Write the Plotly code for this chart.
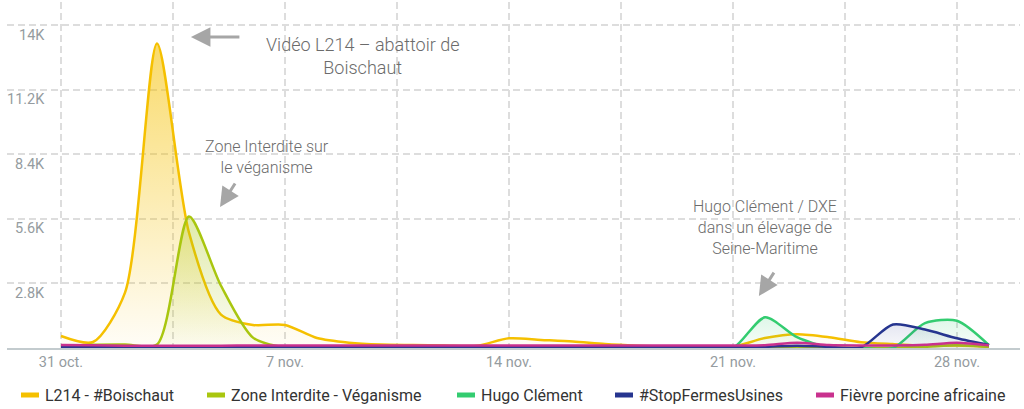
import pandas as pd
import plotly.graph_objects as go

# ---------------- data ----------------
start_date = "2020-10-31"
n_days = 30

l214 = [520, 260, 2400, 13200, 5000, 1450, 1000, 1000, 430, 230,
        150, 130, 110, 100, 420, 350, 280, 170, 100, 60,
        50, 60, 430, 600, 470, 250, 170, 110, 110, 60]
zone_interdite = [50, 140, 150, 150, 5700, 2700, 450, 20, 10, 10,
                  10, 10, 10, 10, 10, 10, 10, 10, 10, 10,
                  10, 10, 10, 10, 10, 10, 10, 50, 120, 50]
hugo_clement = [0, 0, 0, 0, 0, 0, 0, 0, 0, 0,
                0, 0, 0, 0, 0, 0, 0, 0, 0, 0,
                0, 0, 1330, 470, 30, 0, 0, 1080, 1180, 120]
stop_fermes = [30, 30, 30, 30, 30, 30, 30, 30, 30, 30,
               30, 30, 30, 30, 30, 30, 40, 40, 30, 30,
               30, 30, 50, 100, 50, 30, 1020, 800, 420, 130]
fievre = [130, 120, 100, 100, 100, 100, 110, 110, 110, 110,
          110, 110, 110, 110, 110, 110, 110, 110, 110, 110,
          110, 110, 120, 230, 130, 110, 110, 140, 230, 120]

series_names = ["L214 - #Boischaut", "Zone Interdite - Véganisme", "Hugo Clément",
                "#StopFermesUsines", "Fièvre porcine africaine"]
series_values = [l214, zone_interdite, hugo_clement, stop_fermes, fievre]
series_colors = ["#F5C000", "#A9C60F", "#33CC70", "#26358F", "#C9318E"]
fill_top_alpha = [0.58, 0.36, 0.16, 0.12, 0.10]

y_tick_values = [2800, 5600, 8400, 11200, 14000]
y_tick_labels = ["2.8K", "5.6K", "8.4K", "11.2K", "14K"]
x_tick_labels = ["31 oct.", "", "7 nov.", "", "14 nov.", "", "21 nov.", "", "28 nov."]

annotations_text = ["Vidéo L214 – abattoir de<br>Boischaut",
                    "Zone Interdite sur<br>le véganisme",
                    "Hugo Clément / DXE<br>dans un élevage de<br>Seine-Maritime"]

# ---------------- figure ----------------
W, H = 1024, 409
ML, MR, MT, MB = 7, 4, 2, 61
PW, PH = W - ML - MR, H - MT - MB

base = pd.Timestamp(start_date)
dates = [base + pd.Timedelta(days=i) for i in range(n_days)]


def day(d):
    return base + pd.Timedelta(days=d)


def hex_rgba(h, a):
    h = h.lstrip("#")
    r, g, b = int(h[0:2], 16), int(h[2:4], 16), int(h[4:6], 16)
    return f"rgba({r},{g},{b},{a})"


def px_x(p):
    return (p - ML) / PW


def px_y(p):
    return (H - MB - p) / PH


fig = go.Figure()
for name, vals, col, a in zip(series_names, series_values, series_colors, fill_top_alpha):
    fig.add_trace(go.Scatter(
        x=dates, y=vals, name=name, mode="lines",
        line=dict(color=col, width=2.5, shape="spline", smoothing=0.75),
        fill="tozeroy",
        fillgradient=dict(type="vertical",
                          colorscale=[[0, hex_rgba(col, 0.03)], [1, hex_rgba(col, a)]]),
        showlegend=False, hoverinfo="x+y+name",
    ))

font_family = "Roboto, 'Noto Sans', sans-serif"
tick_color = "#959ca0"
grid_color = "#dddddd"

tickvals = [day(3.5 * k) for k in range(len(x_tick_labels))]

fig.update_layout(
    width=W, height=H, autosize=False,
    margin=dict(l=ML, r=MR, t=MT, b=MB),
    plot_bgcolor="white", paper_bgcolor="white",
    font=dict(family=font_family),
    xaxis=dict(
        range=[day(-1.6875), day(29.97)],
        tickvals=tickvals, ticktext=x_tick_labels,
        showgrid=True, gridcolor=grid_color, gridwidth=1.5, griddash="7px,4px",
        showline=True, linecolor="#c3cbce", linewidth=2,
        tickfont=dict(size=14.5, color=tick_color, family=font_family),
        ticks="", zeroline=False, fixedrange=True,
    ),
    yaxis=dict(
        range=[0, 15000],
        tickvals=y_tick_values, showticklabels=False,
        showgrid=True, gridcolor=grid_color, gridwidth=1.5, griddash="7px,4px",
        zeroline=False, showline=False, fixedrange=True,
    ),
    showlegend=False,
)

anns = []
# y tick labels (drawn under gridlines, right-aligned)
for v, t in zip(y_tick_values, y_tick_labels):
    anns.append(dict(x=px_x(47), xref="paper", y=v, yref="y", text=t, showarrow=False,
                     xanchor="right", yanchor="middle", yshift=-10,
                     font=dict(size=14.5, color=tick_color, family=font_family)))

# text annotations
ann_font = dict(family=font_family, color="#6b6b6b", weight=300)
anns.append(dict(x=day(9.41), y=12660, text=annotations_text[0], showarrow=False,
                 xanchor="center", yanchor="middle", font=dict(size=18, **ann_font)))
anns.append(dict(x=day(6.44), y=8300, text=annotations_text[1], showarrow=False,
                 xanchor="center", yanchor="middle", font=dict(size=16, **ann_font)))
anns.append(dict(x=day(22.0), y=5245, text=annotations_text[2], showarrow=False,
                 xanchor="center", yanchor="middle", font=dict(size=16, **ann_font)))

# arrows
arrow_col = "#a6a6a6"
anns.append(dict(x=day(4.06), y=13480, text="", showarrow=True, ax=50, ay=0,
                 arrowhead=2, arrowsize=1.3, arrowwidth=3, arrowcolor=arrow_col))
anns.append(dict(x=day(4.97), y=6110, text="", showarrow=True, ax=16, ay=-25,
                 arrowhead=2, arrowsize=1.3, arrowwidth=3, arrowcolor=arrow_col))
anns.append(dict(x=day(21.81), y=2250, text="", showarrow=True, ax=16, ay=-25,
                 arrowhead=2, arrowsize=1.3, arrowwidth=3, arrowcolor=arrow_col))

# custom legend
legend_bar_x = [21, 207, 457, 615, 816]
shapes = []
for name, col, bx in zip(series_names, series_colors, legend_bar_x):
    shapes.append(dict(type="rect", xref="paper", yref="paper",
                       x0=px_x(bx), x1=px_x(bx + 18), y0=px_y(397.5), y1=px_y(392.5),
                       fillcolor=col, line=dict(width=0)))
    anns.append(dict(x=px_x(bx + 22), xref="paper", y=px_y(395), yref="paper",
                     text=name, showarrow=False, xanchor="left", yanchor="middle",
                     font=dict(size=16, color="#333333", family=font_family)))

fig.update_layout(annotations=anns, shapes=shapes)

fig.write_html("out.html", config={"displayModeBar": False},
               post_script="document.body.style.margin='0';")
